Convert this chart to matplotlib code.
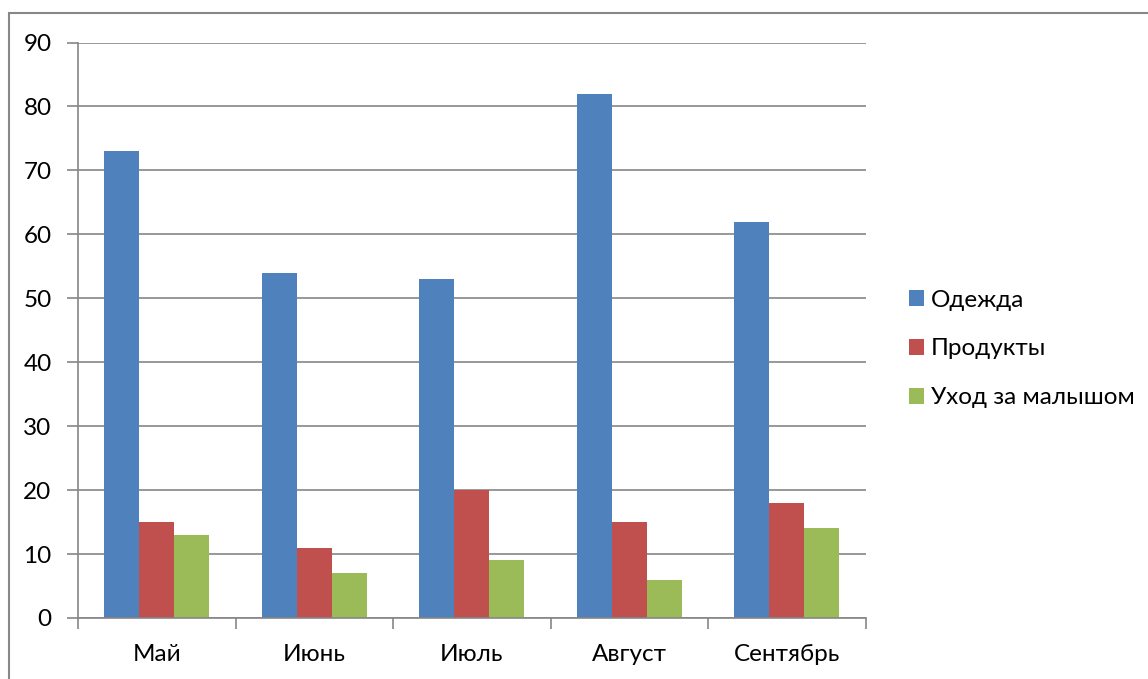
import numpy as np
import matplotlib
matplotlib.use('Agg')
import matplotlib.pyplot as plt
from matplotlib.patches import Rectangle, Patch

plt.rcParams['font.family'] = ['Lato', 'DejaVu Sans']

months = ['Май', 'Июнь', 'Июль', 'Август', 'Сентябрь']
series_names = ['Одежда', 'Продукты', 'Уход за малышом']
clothes = [73, 54, 53, 82, 62]
food = [15, 11, 20, 15, 18]
baby_care = [13, 7, 9, 6, 14]
colors = ['#4F81BD', '#C0504D', '#9BBB59']

W, H = 1148, 679
fig = plt.figure(figsize=(W / 100, H / 100), dpi=100)
ax = fig.add_axes([78 / W, 1 - 618 / H, (865.5 - 78) / W, (618 - 42.5) / H])

# outer chart frame (cut off at right and bottom)
fig.patches.append(Rectangle((8.5 / W, -0.1), 1.2, 1 - 13 / H + 0.1,
                             transform=fig.transFigure, fill=False,
                             edgecolor='#888888', linewidth=1.5))

x = np.arange(len(months))
w = 1 / 4.5
for i, (vals, name) in enumerate(zip([clothes, food, baby_care], series_names)):
    ax.bar(x + (i - 1) * w, vals, width=w, color=colors[i], label=name, zorder=2)

ax.set_xlim(-0.5, len(months) - 0.5)
ax.set_ylim(0, 90)
ax.set_yticks(range(0, 91, 10))
ax.yaxis.grid(True, color='#868686', linewidth=1.2, zorder=0)
ax.set_axisbelow(True)

fs = 17.5
ax.set_xticks(np.arange(-0.5, len(months), 1))
ax.set_xticklabels([])
ax.set_xticks(x, minor=True)
ax.set_xticklabels(months, minor=True)
ax.tick_params(axis='x', which='minor', length=0, pad=19, labelsize=fs)
ax.tick_params(axis='x', which='major', length=8, color='#868686', width=1.2)
ax.tick_params(axis='y', length=8, color='#868686', width=1.2, labelsize=fs, pad=11)

for s in ['top', 'right']:
    ax.spines[s].set_visible(False)
for s in ['left', 'bottom']:
    ax.spines[s].set_color('#868686')
    ax.spines[s].set_linewidth(1.2)

handles = [Patch(facecolor=c, label=n) for c, n in zip(colors, series_names)]
fig.legend(handles=handles, loc='center left', bbox_to_anchor=(909 / W, 1 - 349 / H),
           frameon=False, fontsize=fs, handlelength=0.62, handleheight=0.62,
           handletextpad=0.28, labelspacing=1.14, borderpad=0, borderaxespad=0)

fig.savefig('out.png', dpi=100)
